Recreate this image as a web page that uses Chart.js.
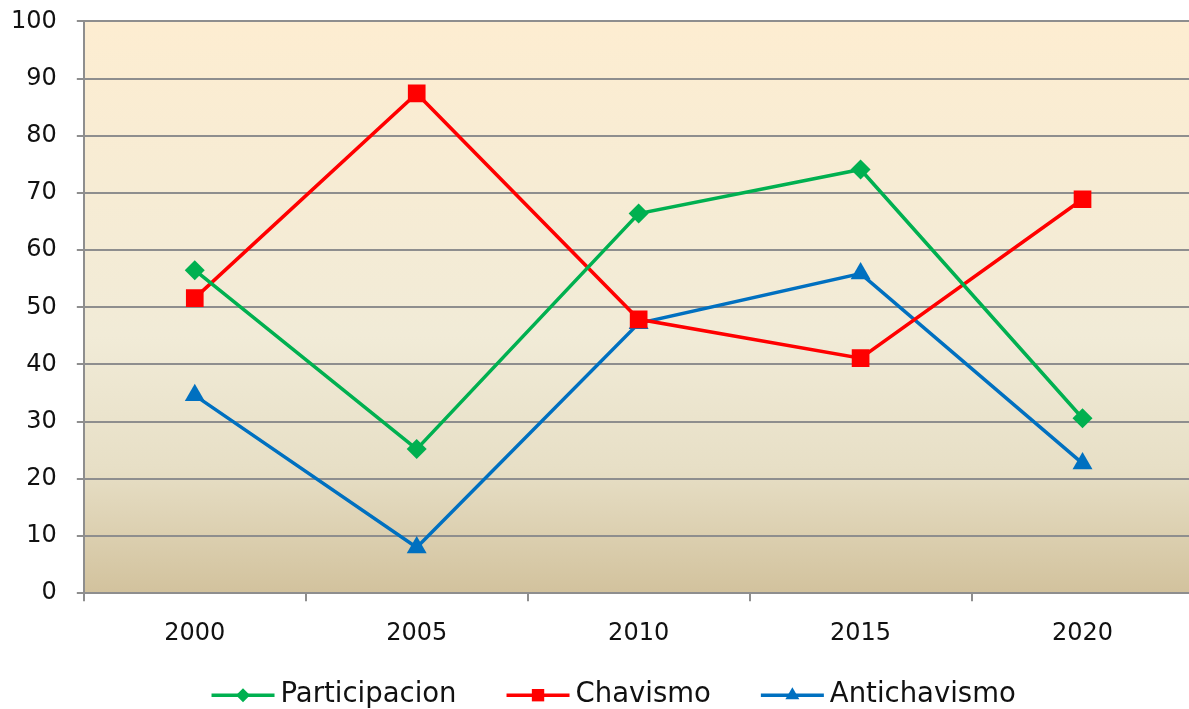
<!DOCTYPE html>
<html>
<head>
<meta charset="utf-8">
<script src="https://cdn.jsdelivr.net/npm/chart.js@4"></script>
<style>
  html, body { margin: 0; padding: 0; background: #fff; overflow: hidden; }
  #wrap { position: relative; width: 1189px; height: 709px; overflow: hidden; }
  #lineChart { position: absolute; left: -22px; top: -13px; }
</style>
</head>
<body>
<div id="wrap"><canvas id="lineChart" width="1228" height="722"></canvas></div>
<script>
// Data
const years = ['2000', '2005', '2010', '2015', '2020'];
const participacion = [56.5, 25.2, 66.4, 74.1, 30.6];
const chavismo = [51.6, 87.4, 47.9, 41.1, 68.9];
const antichavismo = [34.6, 8.0, 47.2, 55.9, 22.7];
const yTicks = [0, 10, 20, 30, 40, 50, 60, 70, 80, 90, 100];

const FONT = "'DejaVu Sans', Verdana, sans-serif";
const GRID = '#8e8e8e';

// Cream-to-tan gradient behind the plot area
const plotBackground = {
    id: 'plotBackground',
    beforeDraw(chart) {
        const { ctx, chartArea: a } = chart;
        const g = ctx.createLinearGradient(0, a.top, 0, a.bottom);
        g.addColorStop(0, '#fdedd1');
        g.addColorStop(0.55, '#f1ebd7');
        g.addColorStop(0.78, '#e7dfc6');
        g.addColorStop(1, '#d2c29d');
        ctx.save();
        ctx.fillStyle = g;
        ctx.fillRect(a.left, a.top, a.right - a.left, a.bottom - a.top);
        ctx.restore();
    }
};

// Legend drawn as line + marker + label, like the spreadsheet legend
const lineLegend = {
    id: 'lineLegend',
    afterDraw(chart) {
        const ctx = chart.ctx;
        const a = chart.chartArea;
        const sets = chart.data.datasets;
        const lineLen = 63, textGap = 6, itemGap = 50;
        ctx.save();
        ctx.font = '27.5px ' + FONT;
        const widths = sets.map(ds => lineLen + textGap + ctx.measureText(ds.label).width);
        const total = widths.reduce((s, w) => s + w, 0) + itemGap * (sets.length - 1);
        let x = (a.left + a.right) / 2 - 25 - total / 2;
        const y = a.bottom + 102;
        sets.forEach((ds, i) => {
            ctx.strokeStyle = ds.borderColor;
            ctx.fillStyle = ds.borderColor;
            ctx.lineWidth = 3.5;
            ctx.beginPath();
            ctx.moveTo(x, y);
            ctx.lineTo(x + lineLen, y);
            ctx.stroke();
            Chart.helpers.drawPoint(ctx, {
                pointStyle: ds.pointStyle,
                radius: ds.pointRadius * 0.7,
                rotation: 0,
                borderWidth: 0
            }, x + lineLen / 2, y);
            ctx.fillStyle = '#111';
            ctx.textBaseline = 'middle';
            ctx.textAlign = 'left';
            ctx.fillText(ds.label, x + lineLen + textGap, y);
            x += widths[i] + itemGap;
        });
        ctx.restore();
    }
};

function series(label, data, color, style, radius) {
    return {
        label: label,
        data: data,
        borderColor: color,
        backgroundColor: color,
        borderWidth: 3.5,
        tension: 0,
        pointStyle: style,
        pointRadius: radius,
        pointHoverRadius: radius,
        pointBorderWidth: 0,
        pointBackgroundColor: color
    };
}

const ctx = document.getElementById('lineChart').getContext('2d');
new Chart(ctx, {
    type: 'line',
    data: {
        labels: years,
        datasets: [
            series('Participacion', participacion, '#00b050', 'rectRot', 10),
            series('Chavismo', chavismo, '#ff0000', 'rect', 12.5),
            series('Antichavismo', antichavismo, '#0070c0', 'triangle', 11.5)
        ]
    },
    options: {
        responsive: false,
        animation: false,
        layout: {
            padding: { top: 21, left: 13, right: 0, bottom: 43 }
        },
        plugins: {
            legend: { display: false },
            tooltip: { enabled: false }
        },
        scales: {
            x: {
                offset: true,
                grid: {
                    offset: true,
                    drawOnChartArea: false,
                    drawTicks: true,
                    tickLength: 8,
                    color: GRID,
                    lineWidth: 2
                },
                border: { color: GRID, width: 2 },
                ticks: {
                    padding: 18,
                    color: '#111',
                    font: { family: FONT, size: 24 }
                }
            },
            y: {
                min: 0,
                max: 100,
                afterBuildTicks(scale) {
                    scale.ticks = yTicks.map(v => ({ value: v }));
                },
                grid: {
                    color: GRID,
                    lineWidth: 2,
                    tickLength: 7
                },
                border: { color: GRID, width: 2 },
                ticks: {
                    padding: 20,
                    color: '#111',
                    font: { family: FONT, size: 24 }
                }
            }
        }
    },
    plugins: [plotBackground, lineLegend]
});
</script>
</body>
</html>
